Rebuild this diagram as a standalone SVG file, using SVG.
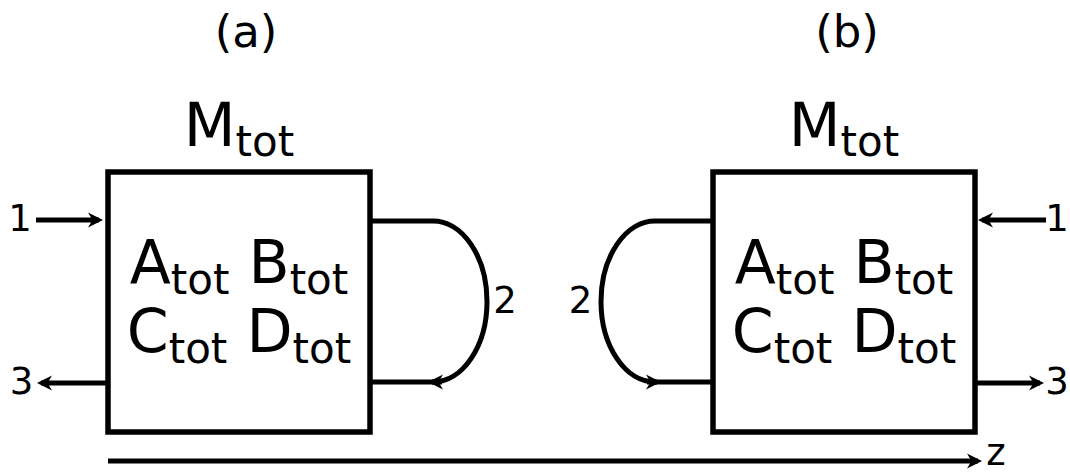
<svg xmlns="http://www.w3.org/2000/svg" width="1070" height="474" viewBox="0 0 1070 474">
<style>
text{font-family:"DejaVu Sans","Liberation Sans",sans-serif;fill:#000}
.lbl{font-size:45px;text-anchor:middle}
.big{font-size:60px;text-anchor:middle}
.sub{font-size:42px}
.num{font-size:37px;text-anchor:middle}
.box{fill:#fff;stroke:#000;stroke-width:5.5}
.ln{fill:none;stroke:#000;stroke-width:5}
</style>
<defs>
<marker id="ah" markerUnits="userSpaceOnUse" markerWidth="20" markerHeight="20" refX="11" refY="7.5" orient="auto" overflow="visible">
<path d="M15,7.5 L0,0 L4.5,7.5 L0,15 Z" fill="#000"/>
</marker>
</defs>
<text class="lbl" x="246" y="47">(a)</text>
<text class="lbl" x="847" y="47">(b)</text>
<g id="nodeA">
<rect class="box" x="108" y="172" width="262" height="260"/>
<text class="big" x="239" y="146">M<tspan class="sub" dy="10">tot</tspan></text>
<text class="big" x="239" y="283">A<tspan class="sub" dy="11">tot</tspan><tspan dy="-11"> B</tspan><tspan class="sub" dy="11">tot</tspan></text>
<text class="big" x="239" y="352">C<tspan class="sub" dy="11">tot</tspan><tspan dy="-11"> D</tspan><tspan class="sub" dy="11">tot</tspan></text>
</g>
<g id="nodeB">
<rect class="box" x="713" y="172" width="262" height="260"/>
<text class="big" x="844" y="146">M<tspan class="sub" dy="10">tot</tspan></text>
<text class="big" x="844" y="283">A<tspan class="sub" dy="11">tot</tspan><tspan dy="-11"> B</tspan><tspan class="sub" dy="11">tot</tspan></text>
<text class="big" x="844" y="352">C<tspan class="sub" dy="11">tot</tspan><tspan dy="-11"> D</tspan><tspan class="sub" dy="11">tot</tspan></text>
</g>
<g id="connectors">
<path class="ln" d="M36,220 H99" marker-end="url(#ah)"/>
<path class="ln" d="M108,383 H41" marker-end="url(#ah)"/>
<path class="ln" d="M370,221 H433 A54,80.5 0 0 1 433,382 H370"/>
<path class="ln" d="M442,382 H432" marker-end="url(#ah)"/>
<path class="ln" d="M1046,220 H982" marker-end="url(#ah)"/>
<path class="ln" d="M975,383 H1040" marker-end="url(#ah)"/>
<path class="ln" d="M713,221 H655 A54,80.5 0 0 0 655,382 H713"/>
<path class="ln" d="M647,382 H657" marker-end="url(#ah)"/>
<path class="ln" d="M108,461 H978" marker-end="url(#ah)"/>
</g>
<g id="labels">
<text class="num" x="20" y="231">1</text>
<text class="num" x="21.5" y="393.5">3</text>
<text class="num" x="505" y="313">2</text>
<text class="num" x="580.5" y="313">2</text>
<text class="num" x="1057" y="231">1</text>
<text class="num" x="1057" y="393.5">3</text>
<text class="num" x="996" y="465">z</text>
</g>
</svg>
